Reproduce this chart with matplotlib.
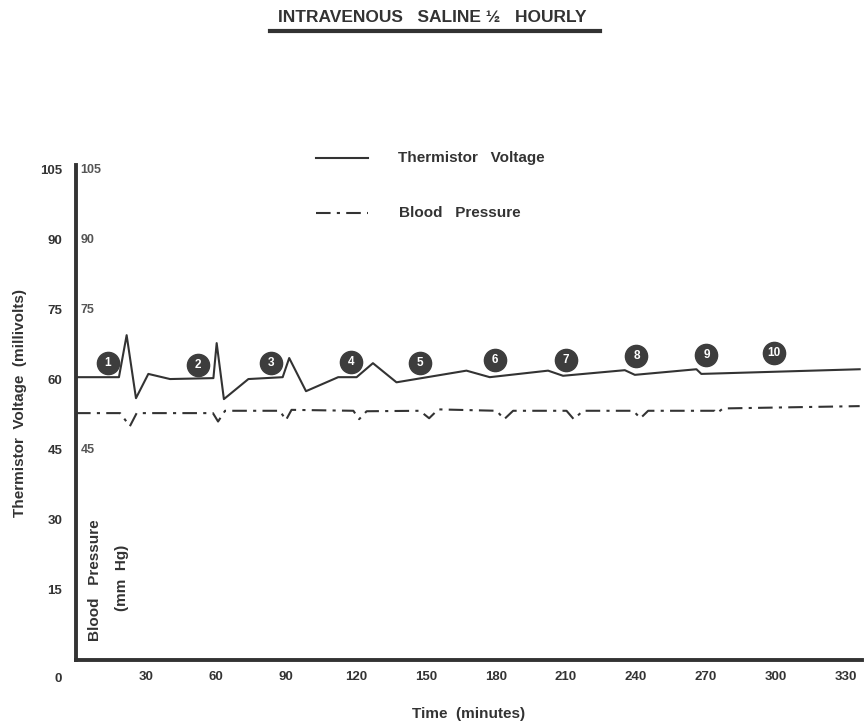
import matplotlib.pyplot as plt

# thermistor voltage (millivolts) vs time (minutes)
tv_time = [0, 18.4, 21.7, 25.7, 31, 40.3, 58.9, 60.3, 63.4, 73.9, 88.6, 91.4, 98.6,
           112.4, 120.3, 127.3, 137.4, 167.4, 177.4, 202.4, 208.8, 235.3, 239.6,
           266, 268.1, 336]
tv_vals = [60.6, 60.6, 69.6, 56.1, 61.3, 60.2, 60.4, 67.9, 55.9, 60.2, 60.6, 64.7, 57.6,
           60.6, 60.6, 63.6, 59.5, 62.0, 60.6, 62.0, 60.9, 62.1, 61.1,
           62.3, 61.3, 62.3]

# blood pressure (mm Hg)
bp_time = [0, 18.9, 23.1, 26, 58.7, 60.9, 63.9, 87.4, 90, 92.4, 118.9, 121.4, 124.6,
           147.4, 151.4, 155.3, 180.3, 183.6, 187.4, 210.3, 213.4, 217.4,
           238.9, 242, 245.3, 273.9, 274.8, 277.4, 336]
bp_vals = [52.9, 52.9, 50.1, 52.9, 52.9, 51.1, 53.4, 53.4, 51.4, 53.6, 53.4, 51.6, 53.3,
           53.4, 51.8, 53.7, 53.4, 51.6, 53.4, 53.4, 51.6, 53.4,
           53.4, 51.8, 53.4, 53.4, 52.9, 53.9, 54.4]

# numbered saline injections
inj_num = ['1', '2', '3', '4', '5', '6', '7', '8', '9', '10']
inj_time = [13.6, 52.4, 83.4, 118.1, 147.4, 179.6, 210, 240.3, 270.3, 299.3]
inj_y = [63.7, 63.2, 63.6, 63.8, 63.7, 64.3, 64.3, 65.1, 65.4, 65.7]

y_ticks = [15, 30, 45, 60, 75, 90, 105]
inner_ticks = [45, 75, 90, 105]
x_ticks = [30, 60, 90, 120, 150, 180, 210, 240, 270, 300, 330]

ink = '#333333'
plt.rcParams['font.family'] = ['Liberation Sans', 'DejaVu Sans']
plt.rcParams['font.weight'] = 'bold'
plt.rcParams['axes.labelweight'] = 'bold'

fig = plt.figure(figsize=(8.64, 7.27), dpi=100)
ax = fig.add_axes([0.088, 0.0922, 0.9097, 0.6804])

ax.plot(tv_time, tv_vals, color=ink, lw=1.5)
ax.plot(bp_time, bp_vals, color=ink, lw=1.5, dashes=(7, 3, 1.5, 3))

for n, t, y in zip(inj_num, inj_time, inj_y):
    ax.plot(t, y, 'o', ms=16, mfc='#3d3d3d', mec='#3d3d3d', zorder=3)
    ax.text(t, y, n, color='white', fontsize=8.5, ha='center', va='center',
            fontweight='bold', zorder=4)

ax.set_xlim(0, 337)
ax.set_ylim(0, 106)
for s in ['top', 'right']:
    ax.spines[s].set_visible(False)
for s in ['left', 'bottom']:
    ax.spines[s].set_linewidth(2.8)
    ax.spines[s].set_color(ink)

ax.set_yticks(y_ticks)
ax.set_yticklabels([str(v) for v in y_ticks])
ax.set_xticks(x_ticks)
ax.set_xticklabels([str(v) for v in x_ticks])
ax.tick_params(length=0, labelsize=9.5, colors=ink)
ax.tick_params(axis='y', pad=10)
ax.tick_params(axis='x', pad=8)
ax.text(-6, -2.7, '0', ha='right', va='top', fontsize=9.5, color=ink,
        transform=ax.transData, clip_on=False)

for v in inner_ticks:
    ax.text(2, v, str(v), ha='left', va='center', fontsize=9, color='#555555')

ax.set_ylabel('Thermistor  Voltage  (millivolts)', fontsize=11, color=ink)
ax.yaxis.set_label_coords(-0.063, 0.52)
ax.set_xlabel('Time  (minutes)', fontsize=11, color=ink, labelpad=17)

ax.text(8.1, 17.0, 'Blood   Pressure', rotation=90, ha='center', va='center',
        fontsize=11, color=ink)
ax.text(19.7, 17.5, '(mm  Hg)', rotation=90, ha='center', va='center',
        fontsize=11, color=ink)

# legend drawn as in the original
ax.plot([103, 125], [107.6, 107.6], color=ink, lw=1.5, clip_on=False)
ax.plot([103, 125], [95.8, 95.8], color=ink, lw=1.5, dashes=(7, 3, 1.5, 3),
        clip_on=False)
ax.text(138, 107.6, 'Thermistor   Voltage', ha='left', va='center', fontsize=11,
        color=ink, clip_on=False)
ax.text(138.5, 95.8, 'Blood   Pressure', ha='left', va='center', fontsize=11,
        color=ink, clip_on=False)

fig.text(0.5, 0.976, 'INTRAVENOUS   SALINE ½   HOURLY', ha='center', va='center',
         fontsize=12.5, color=ink)
fig.add_artist(plt.Line2D([0.3125, 0.694], [0.958, 0.958], color=ink, lw=3))

fig.savefig('out.png', dpi=100)
